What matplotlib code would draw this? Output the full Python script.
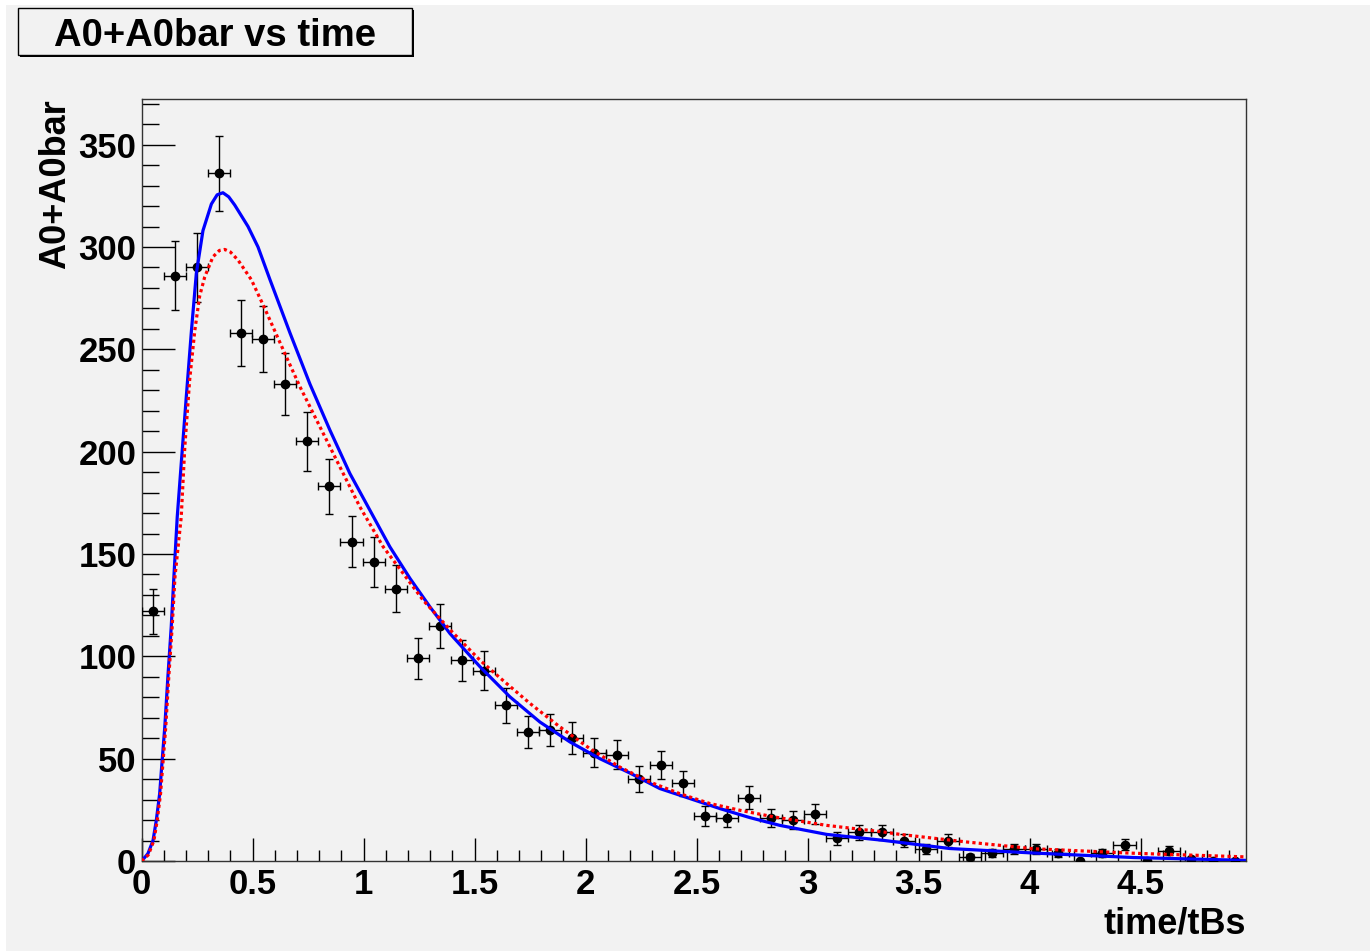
import matplotlib.pyplot as plt
import matplotlib.patches as patches
import numpy as np

plt.rcParams['font.family'] = ['Liberation Sans', 'DejaVu Sans']
plt.rcParams['font.weight'] = 'bold'

# histogram: 50 bins between 0 and 4.975
x_lo, x_hi = 0.0, 4.975
n_bins = 50
counts = [122, 286, 290, 336, 258, 255, 233, 205, 183, 156,
          146, 133, 99, 115, 98, 93, 76, 63, 64, 60,
          53, 52, 40, 47, 38, 22, 21, 31, 21, 20,
          23, 11, 14, 14, 10, 6, 10, 2, 4, 6,
          6, 4, 0, 4, 8, 0, 5, 1, 0, 0]

# fitted curve (blue, solid)
blue_t = [0, 0.028, 0.051, 0.066, 0.081, 0.091, 0.104, 0.118, 0.133, 0.145,
          0.160, 0.178, 0.201, 0.224, 0.246, 0.276, 0.314, 0.340, 0.366, 0.392,
          0.419, 0.479, 0.524, 0.578, 0.668, 0.758, 0.848, 0.938, 1.028, 1.118,
          1.209, 1.299, 1.389, 1.525, 1.659, 1.794, 1.929, 2.064, 2.199, 2.334,
          2.470, 2.605, 2.740, 2.875, 3.086, 3.34, 3.64, 4.016, 4.467, 4.975]
blue_y = [0, 3.6, 10, 20, 33, 47.6, 65.5, 90, 114.4, 138.8,
          168, 194, 227, 259, 287, 308, 321, 325.5, 326.5, 324.5,
          320.5, 310, 300, 284, 258, 233, 210.5, 189.3, 171.4, 153.5,
          138, 124.1, 111.1, 94.8, 80.2, 67.9, 58.2, 50.0, 43.0, 35.4,
          30.5, 25.6, 21.2, 17.4, 13.0, 10.1, 6.1, 3.9, 1.7, 0.3]

# second curve (red, dotted)
red_t = [0, 0.03, 0.055, 0.07, 0.085, 0.095, 0.108, 0.122, 0.137, 0.150,
         0.178, 0.194, 0.216, 0.239, 0.261, 0.284, 0.321, 0.350, 0.374, 0.400,
         0.434, 0.494, 0.55, 0.653, 0.713, 0.788, 0.878, 0.983, 1.088, 1.178,
         1.268, 1.389, 1.525, 1.614, 1.749, 1.884, 2.019, 2.154, 2.289, 2.424,
         2.559, 2.694, 2.85, 3.086, 3.34, 3.417, 3.716, 4.016, 4.467, 4.975]
red_y = [0, 3, 10, 20, 33, 47, 65, 90, 114, 139,
         168, 202, 235, 259, 276, 285.4, 295.2, 298.3, 298.8, 297.5,
         293.6, 284, 271, 246, 231.7, 215.4, 195.8, 173, 153.5, 140.5,
         127.4, 113, 98, 89.5, 77, 65.5, 54.9, 45.9, 38.6, 32.9,
         28.1, 24.8, 21.5, 17.4, 14.2, 13.0, 9.3, 6.0, 3.8, 2.0]

bg = '#f2f2f2'
W, H = 1370, 951
fig = plt.figure(figsize=(W / 100, H / 100), dpi=100, facecolor='white')
fig.patches.append(patches.Rectangle((6 / W, 0), 1, 1 - 5 / H, transform=fig.transFigure,
                                     facecolor=bg, edgecolor='none', zorder=-10))

ax = fig.add_axes([141.7 / W, 1 - 861 / H, (1246 - 141.7) / W, (861 - 99) / H])
ax.set_facecolor(bg)

width = (x_hi - x_lo) / n_bins
centers = x_lo + width * (np.arange(n_bins) + 0.5)
counts = np.array(counts, dtype=float)
nz = counts > 0

ax.errorbar(centers[nz], counts[nz], yerr=np.sqrt(counts[nz]), xerr=width / 2,
            fmt='o', color='black', ms=6, elinewidth=1, capsize=3, capthick=1, zorder=3)
ax.plot(centers[~nz], counts[~nz], 'o', color='black', ms=6, zorder=3)

ax.plot(blue_t, blue_y, color='#0000ff', lw=2.3, zorder=4)
ax.plot(red_t, red_y, color='#ff0000', lw=2.3, ls=(0, (1, 1)), zorder=5)

ax.set_xlim(x_lo, x_hi)
ax.set_ylim(0, 372.3)
ax.set_xticks(np.arange(0, 5, 0.5))
ax.set_xticklabels(['0', '0.5', '1', '1.5', '2', '2.5', '3', '3.5', '4', '4.5'])
ax.set_xticks(np.arange(0, 4.97, 0.1), minor=True)
ax.set_yticks(np.arange(0, 351, 50))
ax.set_yticks(np.arange(0, 371, 10), minor=True)
ax.tick_params(axis='x', which='major', direction='in', length=16.5, width=1, labelsize=25, pad=5)
ax.tick_params(axis='x', which='minor', direction='in', length=8, width=1)
ax.tick_params(axis='y', which='major', direction='in', length=23.5, width=1, labelsize=25, pad=4)
ax.tick_params(axis='y', which='minor', direction='in', length=12, width=1)
for lab in ax.get_xticklabels() + ax.get_yticklabels():
    lab.set_fontweight('bold')
for s in ax.spines.values():
    s.set_color('#333333')
    s.set_linewidth(1)

ax.set_xlabel('time/tBs', fontsize=26, fontweight='bold', loc='right', labelpad=4)
ax.set_ylabel('A0+A0bar', fontsize=26, fontweight='bold', loc='top', labelpad=4)

# title box with shadow, ROOT style
fig.patches.append(patches.Rectangle((20 / W, 1 - 57 / H), 394 / W, 47 / H, transform=fig.transFigure,
                                     facecolor='black', edgecolor='none', zorder=1))
fig.patches.append(patches.Rectangle((18 / W, 1 - 55 / H), 394 / W, 47 / H, transform=fig.transFigure,
                                     facecolor=bg, edgecolor='black', lw=1, zorder=2))
fig.text(215 / W, 1 - 36 / H, 'A0+A0bar vs time', fontsize=27.5, fontweight='bold',
         ha='center', va='center', zorder=3)

fig.savefig('out.png', dpi=100, facecolor=fig.get_facecolor())
